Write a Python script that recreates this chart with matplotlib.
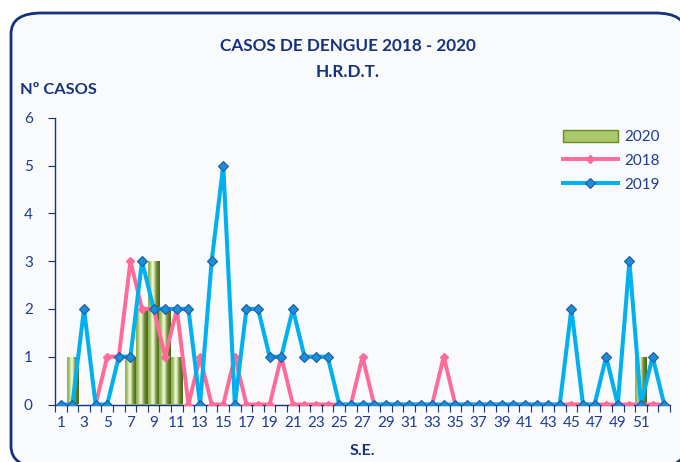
import numpy as np
import matplotlib
matplotlib.use("Agg")
import matplotlib.pyplot as plt
from matplotlib.patches import FancyBboxPatch, Patch
from matplotlib.lines import Line2D

weeks = list(range(1, 54))
tick_labels = [str(w) for w in range(1, 52, 2)]

cases_2020 = [0, 1, 0, 0, 0, 0, 1, 2, 3, 2, 1, 0, 0, 0, 0, 0, 0, 0, 0, 0,
              0, 0, 0, 0, 0, 0, 0, 0, 0, 0, 0, 0, 0, 0, 0, 0, 0, 0, 0, 0,
              0, 0, 0, 0, 0, 0, 0, 0, 0, 0, 1, 0, 0]
cases_2018 = [None, None, None, 0, 1, 1, 3, 2, 2, 1, 2, 0, 1, 0, 0, 1, 0, 0, 0, 1,
              0, 0, 0, 0, 0, 0, 1, 0, 0, 0, 0, 0, 0, 1, 0, 0, 0, 0, 0, 0,
              0, 0, 0, 0, 0, 0, 0, 0, 0, 0, 0, 0, 0]
cases_2019 = [0, 0, 2, 0, 0, 1, 1, 3, 2, 2, 2, 2, 0, 3, 5, 0, 2, 2, 1, 1,
              2, 1, 1, 1, 0, 0, 0, 0, 0, 0, 0, 0, 0, 0, 0, 0, 0, 0, 0, 0,
              0, 0, 0, 0, 2, 0, 0, 1, 0, 3, 0, 1, 0]

NAVY = "#16317d"
TXT = "#1f3b8f"
PINK = "#ff6b98"
BLUE = "#00b0ef"
BLUE_MK = "#1b8fd6"
BLUE_MK_EDGE = "#1d5aa6"

plt.rcParams['font.family'] = ['Lato', 'DejaVu Sans']

fig = plt.figure(figsize=(6.8, 4.62), dpi=100)
fig.patch.set_facecolor("white")

W, H = 680, 462
frame = FancyBboxPatch((11 / W, -5 / H), (686 - 11) / W, (467 - 13) / H,
                       boxstyle="round,pad=0,rounding_size=0.045",
                       transform=fig.transFigure, facecolor="#f8fafc",
                       edgecolor=NAVY, linewidth=2.0, zorder=-5)
fig.patches.append(frame)

ax = fig.add_axes([55 / W, 1 - 404.5 / H, (670 - 55) / W, (404.5 - 117.7) / H])
ax.set_facecolor("none")

x = np.array(weeks, dtype=float)

# 2020 bars with cylinder-like gradient
bars = ax.bar(x, cases_2020, width=1.0, color="#a9c86a", edgecolor="none", zorder=2)
grad = np.linspace(0, 1, 64)
prof = np.exp(-((grad - 0.4) / 0.22) ** 2)
c_edge_l = np.array([0.55, 0.70, 0.28])
c_edge_r = np.array([0.30, 0.42, 0.10])
c_hi = np.array([0.93, 0.97, 0.82])
base = c_edge_l[None, :] * (1 - grad[:, None]) + c_edge_r[None, :] * grad[:, None]
img = base * (1 - prof[:, None]) + c_hi[None, :] * prof[:, None]
img = img[None, :, :]
for b, v in zip(bars, cases_2020):
    if v <= 0:
        continue
    x0 = b.get_x()
    w = b.get_width()
    im = ax.imshow(img, extent=(x0, x0 + w, 0, v), aspect="auto", zorder=2,
                   interpolation="bilinear")
    im.set_clip_path(b)

y18 = np.array([np.nan if v is None else v for v in cases_2018], dtype=float)
ax.plot(x, y18, color=PINK, lw=2.8, marker="D", ms=4.5, mfc=PINK, mec=PINK,
        zorder=3, solid_joinstyle="round")
ax.plot(x, cases_2019, color=BLUE, lw=2.9, marker="D", ms=5, mfc=BLUE_MK,
        mec=BLUE_MK_EDGE, mew=0.8, zorder=4, solid_joinstyle="round")

ax.set_xlim(0.5, 53.5)
ax.set_ylim(0, 6)
for s in ["top", "right"]:
    ax.spines[s].set_visible(False)
for s in ["left", "bottom"]:
    ax.spines[s].set_color(NAVY)
    ax.spines[s].set_linewidth(1.0)

ax.set_yticks(range(0, 7))
ax.tick_params(axis="y", direction="out", length=5, color=NAVY, labelcolor=TXT,
               labelsize=11, pad=11)
ax.set_xticks(np.arange(0.5, 54, 1.0))
ax.set_xticklabels([])
ax.tick_params(axis="x", which="major", direction="out", length=5, color=NAVY)
ax.set_xticks(np.arange(1, 52, 2), minor=True)
ax.set_xticklabels(tick_labels, minor=True)
ax.tick_params(axis="x", which="minor", length=0, labelcolor=TXT, labelsize=11, pad=8)

fig.text(348 / W, 1 - 46 / H, "CASOS DE DENGUE 2018 - 2020", ha="center", va="center",
         fontsize=12.3, fontweight="bold", color=NAVY)
fig.text(348 / W, 1 - 72 / H, "H.R.D.T.", ha="center", va="center",
         fontsize=12.3, fontweight="bold", color=NAVY)
fig.text(20 / W, 1 - 90 / H, "Nº CASOS", ha="left", va="center",
         fontsize=11.8, fontweight="bold", color=NAVY)
fig.text(362 / W, 1 - 451 / H, "S.E.", ha="center", va="center",
         fontsize=11.5, fontweight="bold", color=NAVY)

handles = [Patch(facecolor="#a9c86a", edgecolor="#6b8a2a"),
           Line2D([], [], color=PINK, lw=2.8, marker="D", ms=4.5, mfc=PINK, mec=PINK),
           Line2D([], [], color=BLUE, lw=2.9, marker="D", ms=5, mfc=BLUE_MK,
                  mec=BLUE_MK_EDGE, mew=0.8)]
leg = fig.legend(handles, ["2020", "2018", "2019"], loc="upper left",
                 bbox_to_anchor=(549 / W, 1 - 116 / H), frameon=False,
                 fontsize=11, handlelength=3.6, handleheight=0.9,
                 labelspacing=0.6, handletextpad=0.4)
for t in leg.get_texts():
    t.set_color(TXT)

fig.savefig("out.png", dpi=100, facecolor=fig.get_facecolor())
